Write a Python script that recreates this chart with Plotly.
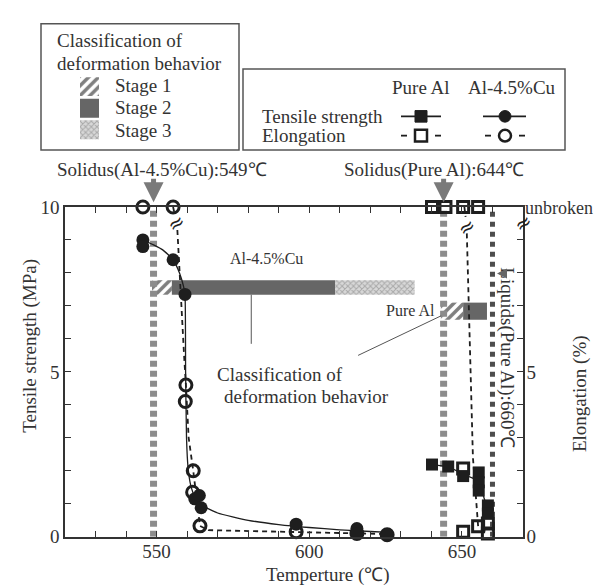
import plotly.graph_objects as go

W, H = 604, 587

# ---------------- data ----------------
solidus_alcu = 549
solidus_pure = 644
liquidus_pure = 660

# Al-4.5%Cu tensile strength (filled circles)
alcu_ts_T = [545.5, 545.5, 555.4, 559.3, 562.5, 564.0, 564.6, 595.7, 615.6, 615.6, 625.5]
alcu_ts = [9.0, 8.8, 8.4, 7.35, 1.15, 1.25, 0.88, 0.38, 0.25, 0.1, 0.06]
# fitted solid curve for Al-4.5%Cu tensile strength
alcu_fit_T = [545.5, 549, 552, 555.4, 557.5, 558.8, 559.3, 559.5, 559.8, 560.3, 561.2,
              562.6, 565, 570, 580, 590, 600, 610, 620, 626]
alcu_fit_ts = [9.0, 8.85, 8.7, 8.4, 8.0, 7.6, 7.35, 5.0, 3.0, 2.1, 1.55,
               1.2, 0.95, 0.72, 0.5, 0.37, 0.28, 0.21, 0.16, 0.13]

# Al-4.5%Cu elongation (open circles)
alcu_el_T = [545.5, 555.4, 559.6, 559.4, 562.0, 561.8, 564.2, 595.7, 615.6, 625.5]
alcu_el = [10, 10, 4.6, 4.1, 2.0, 1.35, 0.33, 0.15, 0.1, 0.06]
# dashed trend for Al-4.5%Cu elongation (None = axis break)
alcu_el_line_T = [555.4, 556.0, None, 556.8, 558.0, 559.0, 559.6, 560.5, 562.0, 563.0, 564.2,
                  567, 580, 596, 615, 627]
alcu_el_line = [10, 9.75, None, 9.3, 7.0, 5.5, 4.6, 3.0, 2.0, 1.2, 0.33,
                0.2, 0.17, 0.15, 0.1, 0.08]

# Pure Al tensile strength (filled squares)
pure_ts_T = [640.2, 645.5, 650.4, 655.5, 655.5, 655.5, 658.5, 658.5]
pure_ts = [2.19, 2.13, 1.84, 1.95, 1.65, 1.4, 0.95, 0.7]
pure_ts_line_T = [640.2, 645.5, 650.4, 655.5, 658.5]
pure_ts_line = [2.19, 2.13, 1.9, 1.7, 0.8]

# Pure Al elongation (open squares)
pure_el_T = [640.2, 644.6, 650.4, 655.3, 650.4, 650.4, 655.3, 658.5, 658.5]
pure_el = [10, 10, 10, 10, 2.07, 0.15, 0.32, 0.1, 0.4]
pure_el_line_T = [650.8, 651.2, None, 651.6, 652.5, 653.6, 655.3, 658.5]
pure_el_line = [10, 9.7, None, 9.2, 6.0, 2.4, 0.32, 0.1]

# Classification of deformation behaviour (stage bars)
stage_names = ["Stage 1", "Stage 2", "Stage 3"]
alcu_stage_start = [548.5, 555.0, 608.5]
alcu_stage_end = [555.0, 608.5, 634.5]
alcu_stage_y = 7.56
pure_stage_start = [643.1, 650.4]
pure_stage_end = [650.4, 658.2]
pure_stage_y = 6.84

x_ticks = list(range(520, 671, 10))
x_labels = {550: "550", 600: "600", 650: "650"}
y_ticks = list(range(0, 11))
y_left_labels = {0: "0", 5: "5", 10: "10"}
y_right_labels = {0: "0", 5: "5"}
unbroken_label = "unbroken"

# ---------------- styling ----------------
FONT = "Liberation Serif, Times New Roman, serif"
TXT = "#333333"
INK = "#1e1e1e"
FS = 19


def px(x):
    return x / W


def py(y):
    return 1 - y / H


stage_styles = [
    dict(color="white", pattern=dict(shape="/", fgcolor="#000000", bgcolor="white", size=7, solidity=0.5)),
    dict(color="#666666"),
    dict(color="white", pattern=dict(shape="x", fgcolor="#7a7a7a", bgcolor="#d8d8d8", size=4, solidity=0.45)),
]

fig = go.Figure()

# stage bars in the plot
for i in range(3):
    fig.add_trace(go.Bar(
        x=[alcu_stage_end[i] - alcu_stage_start[i]], base=[alcu_stage_start[i]], y=[alcu_stage_y],
        orientation="h", width=0.44, marker=dict(**stage_styles[i], line=dict(width=0)),
        xaxis="x", yaxis="y", showlegend=False, hoverinfo="skip"))
for i in range(2):
    fig.add_trace(go.Bar(
        x=[pure_stage_end[i] - pure_stage_start[i]], base=[pure_stage_start[i]], y=[pure_stage_y],
        orientation="h", width=0.52, marker=dict(**stage_styles[i], line=dict(width=0)),
        xaxis="x", yaxis="y", showlegend=False, hoverinfo="skip"))

# vertical temperature lines
fig.add_trace(go.Scatter(x=[solidus_alcu, solidus_alcu], y=[0, 10], mode="lines",
                         line=dict(color="#8c8c8c", width=7, dash="6px,4px"), showlegend=False))
fig.add_trace(go.Scatter(x=[solidus_pure, solidus_pure], y=[0, 10], mode="lines",
                         line=dict(color="#8c8c8c", width=7, dash="6px,4px"), showlegend=False))
fig.add_trace(go.Scatter(x=[liquidus_pure, liquidus_pure], y=[0, 10], mode="lines",
                         line=dict(color="#4d4d4d", width=5, dash="5px,5px"), showlegend=False))

# trend lines
fig.add_trace(go.Scatter(x=alcu_fit_T, y=alcu_fit_ts, mode="lines",
                         line=dict(color=INK, width=1.3, shape="spline", smoothing=0.5), showlegend=False))
fig.add_trace(go.Scatter(x=alcu_el_line_T, y=alcu_el_line, mode="lines", connectgaps=False,
                         line=dict(color=INK, width=1.8, dash="5px,4px"), showlegend=False))
fig.add_trace(go.Scatter(x=pure_ts_line_T, y=pure_ts_line, mode="lines",
                         line=dict(color=INK, width=1.3), showlegend=False))
fig.add_trace(go.Scatter(x=pure_el_line_T, y=pure_el_line, mode="lines", connectgaps=False,
                         line=dict(color=INK, width=1.8, dash="5px,4px"), showlegend=False))

# markers
fig.add_trace(go.Scatter(x=alcu_el_T, y=alcu_el, mode="markers", cliponaxis=False,
                         marker=dict(symbol="circle-open", size=12, color=INK, line=dict(width=3)),
                         showlegend=False))
fig.add_trace(go.Scatter(x=alcu_ts_T, y=alcu_ts, mode="markers", cliponaxis=False,
                         marker=dict(symbol="circle", size=13, color=INK), showlegend=False))
fig.add_trace(go.Scatter(x=pure_ts_T, y=pure_ts, mode="markers", cliponaxis=False,
                         marker=dict(symbol="square", size=12, color=INK), showlegend=False))
fig.add_trace(go.Scatter(x=pure_el_T, y=pure_el, mode="markers", cliponaxis=False,
                         marker=dict(symbol="square-open", size=11, color=INK, line=dict(width=3)),
                         showlegend=False))

# dummy trace on the right axis
fig.add_trace(go.Scatter(x=[None], y=[None], yaxis="y2", showlegend=False))

# legend swatches for stages (own small axes)
for i in range(3):
    fig.add_trace(go.Bar(x=[1], y=[i + 1], orientation="h", width=0.88,
                         marker=dict(**stage_styles[i], line=dict(width=0)),
                         xaxis="x3", yaxis="y3", showlegend=False, hoverinfo="skip"))

# ---------------- layout ----------------
axis_common = dict(showline=True, linecolor="#333", linewidth=1.5, ticks="inside", ticklen=6,
                   tickwidth=1.2, tickcolor="#333", showgrid=False, zeroline=False,
                   tickfont=dict(family=FONT, size=FS, color=TXT))

fig.update_layout(
    width=W, height=H, margin=dict(l=0, r=0, t=0, b=0),
    paper_bgcolor="white", plot_bgcolor="white", barmode="overlay", showlegend=False,
    xaxis=dict(domain=[px(57), px(515)], range=[520, 670], tickvals=x_ticks,
               ticktext=[x_labels.get(v, "") for v in x_ticks], mirror="ticks",
               ticklabelstandoff=-3, **axis_common),
    yaxis=dict(domain=[py(538), py(196)], range=[0, 10], tickvals=y_ticks,
               ticktext=[y_left_labels.get(v, "") for v in y_ticks], **axis_common),
    yaxis2=dict(overlaying="y", side="right", anchor="x", range=[0, 10], tickvals=y_ticks,
                ticktext=[y_right_labels.get(v, "") for v in y_ticks], ticklabelstandoff=-2, **axis_common),
    xaxis3=dict(domain=[px(72), px(91)], anchor="y3", range=[0, 1], visible=False),
    yaxis3=dict(domain=[py(127), py(60)], anchor="x3", range=[3.5, 0.5], visible=False),
)

ann = []


def ptext(x, y, t, anchor="left", size=FS, **kw):
    ann.append(dict(x=px(x), y=py(y), xref="paper", yref="paper", text=t, showarrow=False,
                    xanchor=anchor, yanchor="middle", font=dict(family=FONT, size=size, color=TXT), **kw))


# legend box 1 texts
ptext(47, 23, "Classification of")
ptext(47, 47, "deformation behavior")
for i, nm in enumerate(stage_names):
    ptext(105, [70, 93, 117][i], nm)

# legend box 2 texts
ptext(413, 72, "Pure Al", "center")
ptext(504, 72, "Al-4.5%Cu", "center")
ptext(252, 102, "Tensile strength")
ptext(252, 122, "Elongation")

# titles of axes
ptext(22, 340, "Tensile strength (MPa)", "center", textangle=-90)
ptext(572, 390, "Elongation (%)", "center", textangle=-90)
ptext(320, 578, "Temperture (℃)", "center")
ptext(515, 197, unbroken_label, "left", size=18)

# solidus labels
ptext(154, 158, "Solidus(Al-4.5%Cu):549℃", "center")
ptext(426, 158, "Solidus(Pure Al):644℃", "center")
ptext(499, 353, "Liquids(Pure Al):660℃", "center", textangle=90)

# classification note
ptext(272, 370, "Classification of", "center")
ptext(298, 393, "deformation behavior", "center")

# small labels on bars (data coords)
ann.append(dict(x=586, y=8.45, xref="x", yref="y", text="Al-4.5%Cu", showarrow=False,
                font=dict(family=FONT, size=16, color=TXT)))
ann.append(dict(x=641.8, y=6.87, xref="x", yref="y", text="Pure Al", showarrow=False, xanchor="right",
                font=dict(family=FONT, size=16, color=TXT)))

# break marks
for (bx, by) in [(556.4, 9.5), (651.4, 9.4), (670, 9.5)]:
    ann.append(dict(x=bx, y=by, xref="x", yref="y", text="≈", showarrow=False, textangle=-35,
                    font=dict(family="DejaVu Sans", size=20, color=INK)))

# arrows to solidus lines
for tx in [solidus_alcu, solidus_pure]:
    ann.append(dict(x=tx, y=py(191), xref="x", yref="paper", ax=0, ay=-25, text="", showarrow=True,
                    arrowhead=2, arrowsize=0.8, arrowwidth=5, arrowcolor="#7a7a7a"))
# small arrow at liquidus label
ann.append(dict(x=px(489), y=py(265), xref="paper", yref="paper", ax=10, ay=0, text="", showarrow=True,
                arrowhead=2, arrowsize=0.8, arrowwidth=2.5, arrowcolor="#666"))

fig.update_layout(annotations=ann)

# ---------------- shapes: legend boxes, leader lines, legend symbols ----------------
shapes = []
box_line = dict(color="#555", width=1.5)
shapes.append(dict(type="rect", xref="paper", yref="paper", x0=px(33), x1=px(231), y0=py(137), y1=py(6),
                   line=box_line))
shapes.append(dict(type="rect", xref="paper", yref="paper", x0=px(235), x1=px(557), y0=py(137), y1=py(53),
                   line=box_line))
# leader lines
shapes.append(dict(type="line", xref="x", yref="y", x0=581, x1=581, y0=7.34, y1=5.85,
                   line=dict(color="#555", width=1)))
shapes.append(dict(type="line", xref="x", yref="y", x0=616, x1=643.2, y0=5.5, y1=6.7,
                   line=dict(color="#555", width=1)))


def pline(x0, x1, y):
    shapes.append(dict(type="line", xref="paper", yref="paper", x0=px(x0), x1=px(x1), y0=py(y), y1=py(y),
                       line=dict(color=INK, width=1.8)))


pline(393, 433, 102)
shapes.append(dict(type="rect", xref="paper", yref="paper", x0=px(407), x1=px(419), y0=py(108), y1=py(96),
                   fillcolor=INK, line=dict(color=INK, width=1)))
pline(475, 518, 102)
shapes.append(dict(type="circle", xref="paper", yref="paper", x0=px(491), x1=px(503), y0=py(108), y1=py(96),
                   fillcolor=INK, line=dict(color=INK, width=1)))
pline(393, 399, 122)
pline(427, 433, 122)
shapes.append(dict(type="rect", xref="paper", yref="paper", x0=px(407), x1=px(419), y0=py(128), y1=py(116),
                   fillcolor="white", line=dict(color=INK, width=2.5)))
pline(477, 483, 122)
pline(511, 517, 122)
shapes.append(dict(type="circle", xref="paper", yref="paper", x0=px(491), x1=px(503), y0=py(128), y1=py(116),
                   fillcolor="white", line=dict(color=INK, width=2.5)))

fig.update_layout(shapes=shapes)

fig.write_html("out.html")
